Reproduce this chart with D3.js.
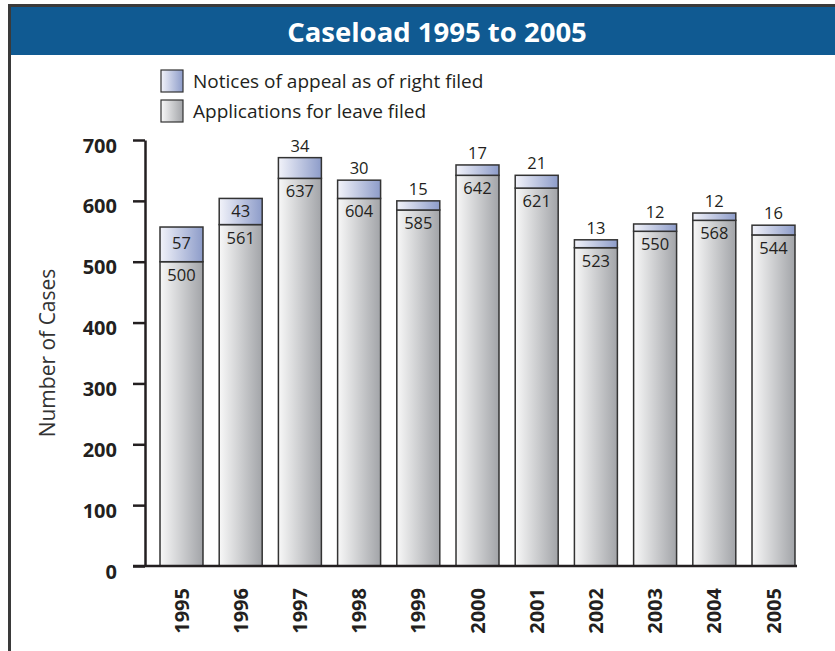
<!DOCTYPE html>
<html>
<head>
<meta charset="utf-8">
<script src="https://cdn.jsdelivr.net/npm/d3@7"></script>
<style>
  body { margin: 0; background: #fff; }
  svg { display: block; font-family: "Open Sans", sans-serif; }
</style>
</head>
<body>
<div id="chart"></div>
<script>
var years = ["1995", "1996", "1997", "1998", "1999", "2000", "2001", "2002", "2003", "2004", "2005"];
var leaveFiled = [500, 561, 637, 604, 585, 642, 621, 523, 550, 568, 544];
var appealFiled = [57, 43, 34, 30, 15, 17, 21, 13, 12, 12, 16];
var yTicks = [0, 100, 200, 300, 400, 500, 600, 700];
var legendLabels = ["Notices of appeal as of right filed", "Applications for leave filed"];

var width = 835, height = 651;

var svg = d3.select("#chart").append("svg")
	.attr("width", width)
	.attr("height", height);

var defs = svg.append("defs");
function gradient(id, from, to) {
	var g = defs.append("linearGradient").attr("id", id)
		.attr("x1", "0%").attr("x2", "100%").attr("y1", "0%").attr("y2", "0%");
	g.append("stop").attr("offset", "0%").attr("stop-color", from);
	g.append("stop").attr("offset", "100%").attr("stop-color", to);
}
gradient("gradAppeal", "#f2f3fa", "#8d9cc9");
gradient("gradLeave", "#f8f8f8", "#a2a4a8");

// frame + title bar
svg.append("rect").attr("x", 10).attr("y", 6).attr("width", width).attr("height", 49).attr("fill", "#105a92");
svg.append("line").attr("x1", 8).attr("x2", width).attr("y1", 5.5).attr("y2", 5.5)
	.attr("stroke", "#3a3a3a").attr("stroke-width", 3);
svg.append("line").attr("x1", 9.5).attr("x2", 9.5).attr("y1", 4).attr("y2", height)
	.attr("stroke", "#3a3a3a").attr("stroke-width", 3);
svg.append("text")
	.attr("x", 437).attr("y", 42)
	.attr("text-anchor", "middle")
	.attr("fill", "#fff")
	.attr("font-size", "27.5px")
	.attr("font-weight", "bold")
	.text("Caseload 1995 to 2005");

// legend
var legend = svg.append("g").attr("transform", "translate(161,70)");
legendLabels.forEach(function(lab, i) {
	legend.append("rect")
		.attr("x", 0).attr("y", i * 30)
		.attr("width", 22).attr("height", 22)
		.attr("fill", i == 0 ? "url(#gradAppeal)" : "url(#gradLeave)")
		.attr("stroke", "#333").attr("stroke-width", 1.2);
	legend.append("text")
		.attr("x", 32).attr("y", i * 30 + 18)
		.attr("font-size", "19px")
		.attr("fill", "#231f20")
		.text(lab);
});

var x = d3.scaleBand()
	.domain(years)
	.range([151.9, 803.1])
	.paddingInner(0.274)
	.paddingOuter(0.137);

var y = d3.scaleLinear()
	.domain([0, 700])
	.range([566, 140]);

var data = years.map(function(yr, i) {
	return {year: yr, leave: leaveFiled[i], appeal: appealFiled[i]};
});

var bars = svg.append("g").selectAll(".bar")
	.data(data)
	.enter().append("g")
	.attr("class", "bar");

bars.append("rect")
	.attr("x", function(d) { return x(d.year); })
	.attr("y", function(d) { return y(d.leave); })
	.attr("width", x.bandwidth())
	.attr("height", function(d) { return y(0) - y(d.leave); })
	.attr("fill", "url(#gradLeave)")
	.attr("stroke", "#333").attr("stroke-width", 1.5);

bars.append("rect")
	.attr("x", function(d) { return x(d.year); })
	.attr("y", function(d) { return y(d.leave + d.appeal); })
	.attr("width", x.bandwidth())
	.attr("height", function(d) { return y(d.leave) - y(d.leave + d.appeal); })
	.attr("fill", "url(#gradAppeal)")
	.attr("stroke", "#333").attr("stroke-width", 1.5);

bars.append("text")
	.attr("x", function(d) { return x(d.year) + x.bandwidth() / 2; })
	.attr("y", function(d) { return y(d.leave) + 19; })
	.attr("text-anchor", "middle")
	.attr("font-size", "16.5px")
	.attr("fill", "#231f20")
	.text(function(d) { return d.leave; });

bars.append("text")
	.attr("x", function(d) { return x(d.year) + x.bandwidth() / 2; })
	.attr("y", function(d) {
		var h = y(d.leave) - y(d.leave + d.appeal);
		if (h > 24) return (y(d.leave) + y(d.leave + d.appeal)) / 2 + 5;
		return y(d.leave + d.appeal) - 6;
	})
	.attr("text-anchor", "middle")
	.attr("font-size", "16.5px")
	.attr("fill", "#231f20")
	.text(function(d) { return d.appeal; });

// axes
var yAxis = svg.append("g")
	.attr("transform", "translate(145,0)")
	.call(d3.axisLeft(y).tickValues(yTicks).tickSize(12).tickSizeOuter(0).tickPadding(16));
yAxis.select(".domain").attr("stroke", "#231f20").attr("stroke-width", 2.5);
yAxis.selectAll(".tick line").attr("stroke", "#231f20").attr("stroke-width", 2.5);
yAxis.selectAll(".tick text")
	.attr("font-family", "Open Sans, sans-serif")
	.attr("font-size", "20px")
	.attr("font-weight", "bold")
	.attr("fill", "#231f20")
	.attr("dy", "0.6em");

svg.append("line")
	.attr("x1", 133).attr("x2", 797)
	.attr("y1", y(0)).attr("y2", y(0))
	.attr("stroke", "#231f20").attr("stroke-width", 2.5);

svg.append("g").selectAll(".year")
	.data(years)
	.enter().append("text")
	.attr("transform", function(d) {
		return "translate(" + (x(d) + x.bandwidth() / 2 + 7) + ",588) rotate(-90)";
	})
	.attr("text-anchor", "end")
	.attr("font-size", "20px")
	.attr("font-weight", "bold")
	.attr("fill", "#231f20")
	.text(function(d) { return d; });

svg.append("text")
	.attr("transform", "translate(55,353) rotate(-90)")
	.attr("text-anchor", "middle")
	.attr("font-size", "21px")
	.attr("fill", "#333")
	.text("Number of Cases");
</script>
</body>
</html>
